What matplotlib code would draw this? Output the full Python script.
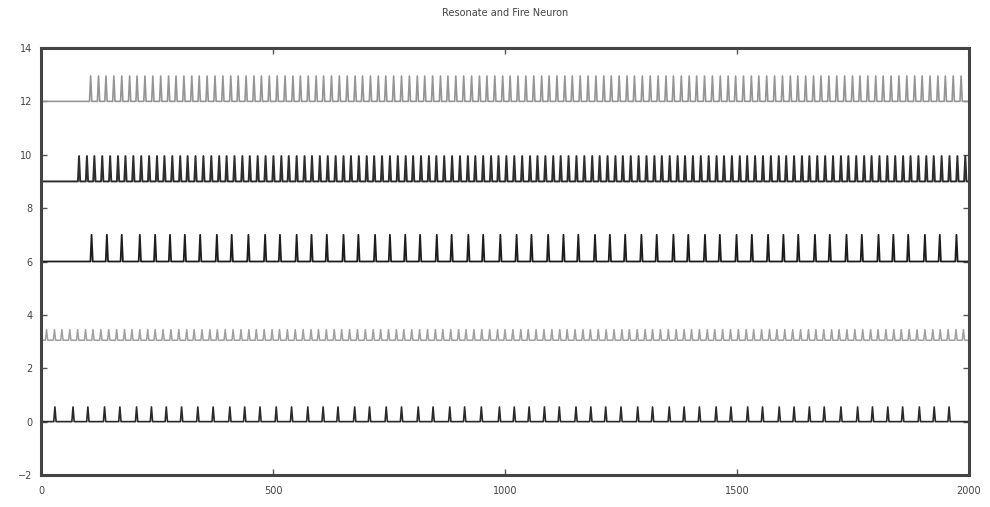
import matplotlib
matplotlib.use('Agg')
import matplotlib.pyplot as plt

# spike times of each trace (ms)
spikes_0 = [30, 69, 101, 137, 170, 206, 238, 270, 303, 338, 371, 407, 439, 472,
            507, 540, 575, 608, 640, 676, 708, 744, 777, 813, 845, 881, 913, 949,
            988, 1020, 1052, 1085, 1117, 1153, 1185, 1217, 1250, 1286, 1318, 1354,
            1386, 1419, 1455, 1487, 1523, 1555, 1591, 1623, 1656, 1688, 1724, 1760,
            1792, 1825, 1857, 1893, 1925, 1957]

spikes_3 = [12, 29, 45, 62, 79, 96, 112, 129, 146, 163, 180, 196, 213, 230, 246,
            263, 280, 297, 314, 330, 347, 364, 380, 397, 414, 431, 448, 464, 481,
            498, 514, 531, 548, 565, 582, 598, 615, 632, 648, 665, 682, 699, 716,
            732, 749, 766, 782, 799, 816, 833, 850, 866, 883, 900, 916, 933, 950,
            967, 984, 1000, 1017, 1034, 1050, 1067, 1084, 1101, 1118, 1134, 1151,
            1168, 1184, 1201, 1218, 1235, 1252, 1268, 1285, 1302, 1318, 1335, 1352,
            1369, 1386, 1402, 1419, 1436, 1452, 1469, 1486, 1503, 1520, 1536, 1553,
            1570, 1586, 1603, 1620, 1637, 1654, 1670, 1687, 1704, 1720, 1737, 1754,
            1771, 1788, 1804, 1821, 1838, 1854, 1871, 1888, 1905, 1922, 1938, 1955,
            1972, 1988]

spikes_6 = [109, 142, 174, 213, 246, 278, 310, 343, 379, 411, 447, 483, 515, 551,
            583, 616, 652, 684, 720, 752, 785, 817, 853, 885, 921, 953, 990, 1025,
            1057, 1093, 1126, 1158, 1194, 1226, 1259, 1294, 1327, 1363, 1395, 1431,
            1463, 1499, 1532, 1567, 1600, 1632, 1668, 1700, 1736, 1769, 1805, 1837,
            1869, 1905, 1937, 1973]

spikes_9 = [82, 99, 115, 132, 149, 166, 182, 199, 216, 233, 250, 266, 283, 300,
            316, 333, 350, 367, 384, 400, 417, 434, 450, 467, 484, 501, 518, 534,
            551, 568, 584, 601, 618, 635, 652, 668, 685, 702, 718, 735, 752, 769,
            786, 802, 819, 836, 852, 869, 886, 903, 920, 936, 953, 970, 986, 1003,
            1020, 1037, 1054, 1070, 1087, 1104, 1120, 1137, 1154, 1171, 1188, 1204,
            1221, 1238, 1254, 1271, 1288, 1305, 1322, 1338, 1355, 1372, 1388, 1405,
            1422, 1439, 1456, 1472, 1489, 1506, 1522, 1539, 1556, 1573, 1590, 1606,
            1623, 1640, 1656, 1673, 1690, 1707, 1724, 1740, 1757, 1774, 1790, 1807,
            1824, 1841, 1858, 1874, 1891, 1908, 1924, 1941, 1958, 1975, 1992]

spikes_12 = [107, 124, 140, 157, 174, 191, 207, 224, 241, 258, 275, 291, 308, 325,
             341, 358, 375, 392, 409, 425, 442, 459, 475, 492, 509, 526, 543, 559,
             576, 593, 609, 626, 643, 660, 677, 693, 710, 727, 743, 760, 777, 794,
             811, 827, 844, 861, 877, 894, 911, 928, 945, 961, 978, 995, 1011, 1028,
             1045, 1062, 1079, 1095, 1112, 1129, 1145, 1162, 1179, 1196, 1213, 1229,
             1246, 1263, 1279, 1296, 1313, 1330, 1347, 1363, 1380, 1397, 1413, 1430,
             1447, 1464, 1481, 1497, 1514, 1531, 1547, 1564, 1581, 1598, 1615, 1631,
             1648, 1665, 1681, 1698, 1715, 1732, 1749, 1765, 1782, 1799, 1815, 1832,
             1849, 1866, 1883, 1899, 1916, 1933, 1949, 1966, 1983]

baselines = [0, 3.05, 6, 9, 12]
peaks = [0.55, 3.45, 7.0, 9.95, 12.95]
trace_colors = ['#2a2a2a', '#a0a0a0', '#1e1e1e', '#2e2e2e', '#959595']
trace_widths = [1.2, 1.1, 1.3, 1.4, 1.2]

T_END = 2000


def spike_trace(times, base, peak, half_width=2.5):
    # each spike: fast rise to the peak, immediate reset to rest
    xs, ys = [0], [base]
    for t in times:
        xs += [t - half_width, t, t + half_width]
        ys += [base, peak, base]
    xs.append(T_END)
    ys.append(base)
    return xs, ys


fig = plt.figure(figsize=(9.9, 5.07), dpi=100)
ax = fig.add_axes([41 / 990, 1 - 475 / 507, 928 / 990, 427 / 507])

all_spikes = [spikes_0, spikes_3, spikes_6, spikes_9, spikes_12]
for times, base, peak, col, lw in zip(all_spikes, baselines, peaks,
                                      trace_colors, trace_widths):
    xs, ys = spike_trace(times, base, peak)
    ax.plot(xs, ys, color=col, linewidth=lw)

ax.set_xlim(0, 2000)
ax.set_ylim(-2, 14)
ax.set_xticks([0, 500, 1000, 1500, 2000])
ax.set_yticks(range(-2, 15, 2))
ax.tick_params(direction='in', length=4, width=1, colors='#555555',
               labelcolor='#444444', labelsize=7, top=True, right=True)
ax.tick_params(axis='x', pad=8)
ax.tick_params(axis='y', pad=6)
for sp in ax.spines.values():
    sp.set_linewidth(2.2)
    sp.set_color('#444444')

fig.text(505 / 990, 1 - 13 / 507, 'Resonate and Fire Neuron',
         ha='center', va='center', fontsize=7, color='#444444')

fig.savefig('out.png', dpi=100)
